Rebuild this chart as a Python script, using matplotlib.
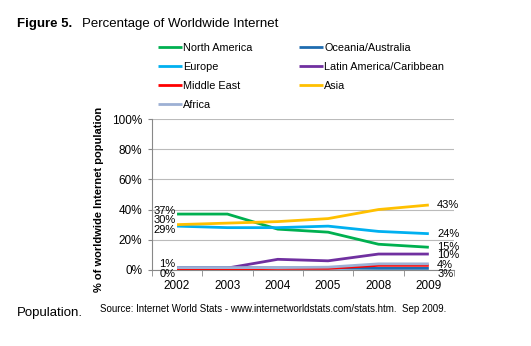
import matplotlib.pyplot as plt
from matplotlib.ticker import FixedLocator, PercentFormatter
import numpy as np

plt.rcParams["font.family"] = ["Liberation Sans", "DejaVu Sans"]

years = ["2002", "2003", "2004", "2005", "2008", "2009"]

north_america = [37, 37, 27, 25, 17, 15]
oceania = [1.5, 1.5, 1.3, 1.2, 1, 1]
europe = [29, 28, 28, 29, 25.5, 24]
latin_america = [1.2, 1.2, 7, 6, 10.5, 10.5]
middle_east = [0.3, 0.5, 1, 1, 3, 3]
asia = [30, 31, 32, 34, 40, 43]
africa = [1.5, 1.5, 1.5, 1.8, 4, 4]

series = [
    ("North America", north_america, "#00B050"),
    ("Oceania/Australia", oceania, "#1F6CB0"),
    ("Europe", europe, "#00B0F0"),
    ("Latin America/Caribbean", latin_america, "#7030A0"),
    ("Middle East", middle_east, "#FF0000"),
    ("Asia", asia, "#FFC000"),
    ("Africa", africa, "#9DB0D4"),
]

# end labels: (text, series index, vertical nudge in points)
left_labels = [("37%", 0, 2.5), ("30%", 5, 3.4), ("29%", 2, -2.8), ("1%", 1, 2.8), ("0%", 4, -3)]
right_labels = [("43%", 5, 0), ("24%", 2, 0), ("15%", 0, 0.5), ("10%", 3, -1),
                ("4%", 6, -0.8), ("3%", 4, -6.5)]

fig = plt.figure(figsize=(5.31, 3.46), dpi=100)
ax = fig.add_axes([0.286, 0.22, 0.569, 0.436])

x = np.arange(len(years))
for name, vals, color in series:
    ax.plot(x, vals, color=color, lw=2.0, label=name, solid_capstyle="butt")

for txt, i, dy in left_labels:
    ax.annotate(txt, (x[0], series[i][1][0]), xytext=(-1, dy), textcoords="offset points",
                ha="right", va="center", fontsize=8)
for txt, i, dy in right_labels:
    ax.annotate(txt, (x[-1], series[i][1][-1]), xytext=(6, dy), textcoords="offset points",
                ha="left", va="center", fontsize=8)

ax.set_xlim(-0.5, len(years) - 0.5)
ax.set_ylim(0, 100)
ax.set_yticks(np.arange(0, 101, 20))
ax.yaxis.set_major_formatter(PercentFormatter(decimals=0))
ax.set_xticks(x)
ax.set_xticklabels(years)
ax.xaxis.set_minor_locator(FixedLocator(np.arange(-0.5, len(years), 1.0)))
ax.tick_params(axis="x", which="major", length=0, labelsize=8.5, pad=7)
ax.tick_params(axis="x", which="minor", length=4, color="#888888")
ax.tick_params(axis="y", length=3, labelsize=8.5, color="#888888", pad=4)
ax.grid(axis="y", color="#BBBBBB", lw=0.8)
ax.set_axisbelow(True)
for s in ["top", "right"]:
    ax.spines[s].set_visible(False)
for s in ["left", "bottom"]:
    ax.spines[s].set_color("#888888")
    ax.spines[s].set_linewidth(0.8)

ax.set_ylabel("% of worldwide Internet population", fontsize=8, fontweight="bold")
ax.yaxis.set_label_coords(-0.16, 0.47)

# legend fills row by row in the original: reorder for matplotlib's column fill
handles, labels = ax.get_legend_handles_labels()
order = [0, 2, 4, 6, 1, 3, 5]
fig.legend([handles[i] for i in order], [labels[i] for i in order], ncol=2,
           loc="upper left", bbox_to_anchor=(0.28, 0.905),
           frameon=False, fontsize=7.8, handlelength=2.2, handletextpad=0.1,
           columnspacing=4.3, labelspacing=0.83)

fig.text(0.032, 0.93, "Figure 5.", fontsize=9.5, fontweight="bold", va="center")
fig.text(0.155, 0.93, "Percentage of Worldwide Internet", fontsize=9.5, va="center")
fig.text(0.032, 0.095, "Population.", fontsize=9.5, va="center")
fig.text(0.188, 0.107, "Source: Internet World Stats - www.internetworldstats.com/stats.htm.  Sep 2009.",
         fontsize=7, va="center")

fig.savefig("out.png", dpi=100)
